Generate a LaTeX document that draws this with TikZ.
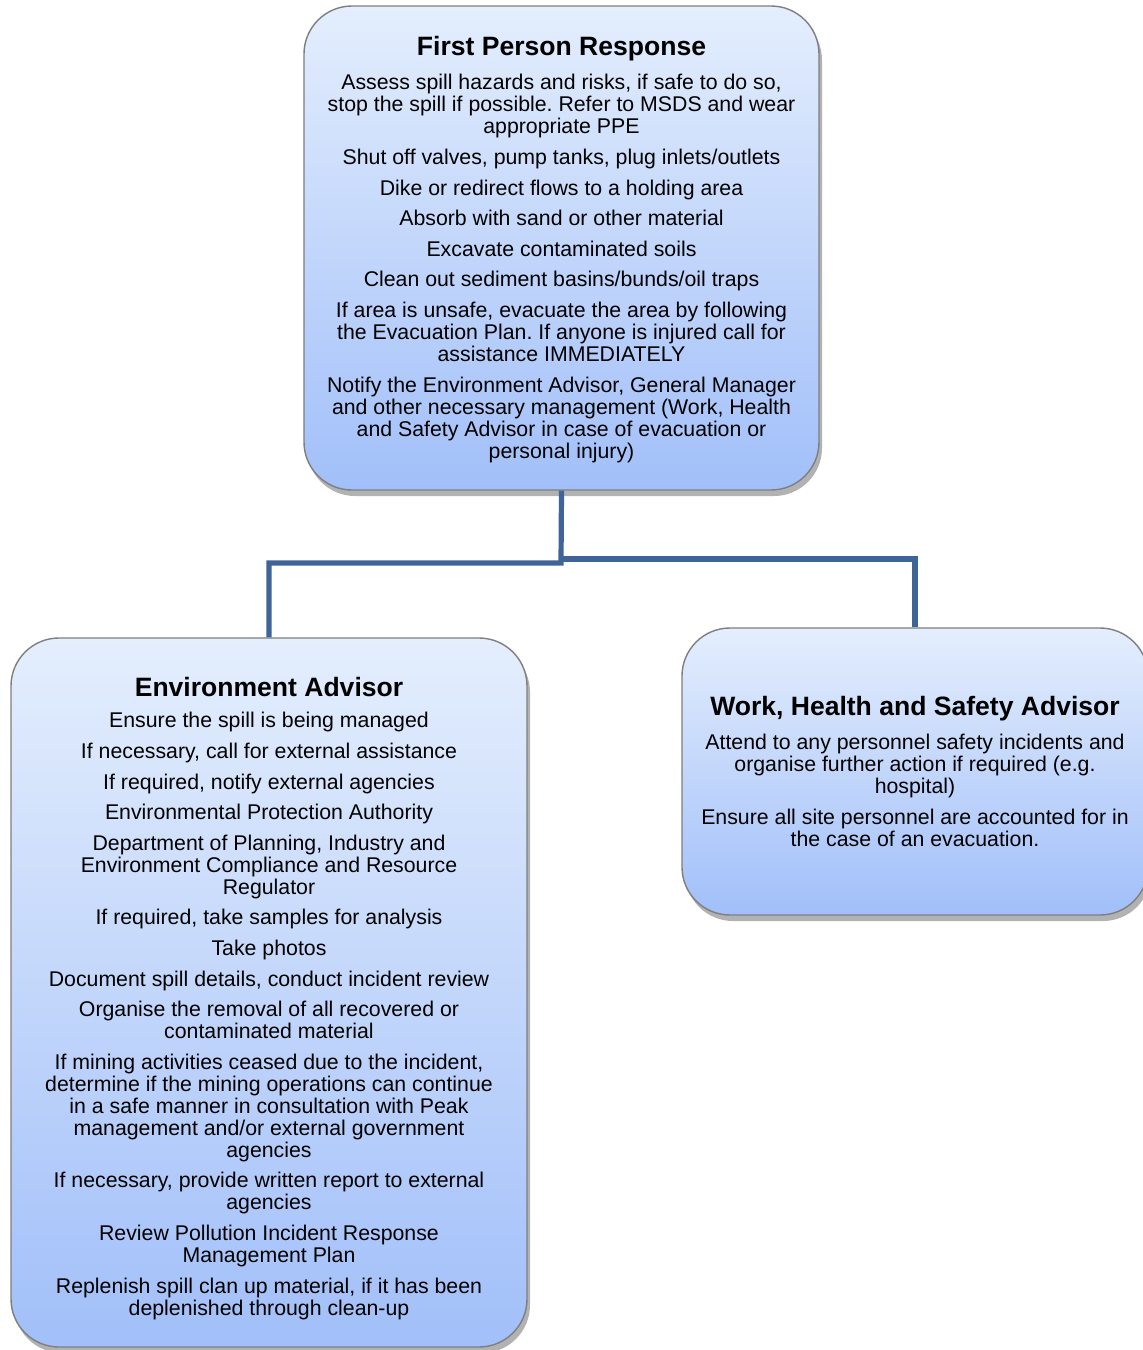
\documentclass[tikz,border=0pt]{standalone}
\usepackage{fontspec}
\setmainfont{Liberation Sans}
\usetikzlibrary{shadows}
\definecolor{topc}{HTML}{E4EEFD}
\definecolor{botc}{HTML}{A1BFF9}
\definecolor{edgec}{HTML}{7F7F7F}
\definecolor{connc}{HTML}{3F6598}
\newcommand\mypsep{\\[4.3pt]}
\frenchspacing
\begin{document}
\begin{tikzpicture}[x=0.5pt,y=-0.5pt,
  box/.style={rectangle, rounded corners=24pt, draw=edgec, line width=0.7pt,
    top color=topc, bottom color=botc, inner sep=0pt,
    drop shadow={shadow xshift=1.5pt, shadow yshift=-3pt, opacity=0.3, fill=black}},
  titletext/.style={font=\bfseries\fontsize{13.27}{15}\selectfont, inner sep=0pt},
  bodytext/.style={font=\fontsize{10.65}{11}\selectfont\frenchspacing, align=center, inner sep=0pt, anchor=north},
  conn/.style={draw=connc, line width=2.6pt}]
\useasboundingbox (0,0) rectangle (1143,1350);
\clip (0,0) rectangle (1143,1350);
\fill[white] (0,0) rectangle (1143,1350);

% connectors
\coordinate (jl) at (561,563);
\coordinate (jr) at (561,559);

\node[box, minimum width=257.5pt, minimum height=242pt] (fpr) at (561.5,248) {};
\node[box, minimum width=258pt, minimum height=354.5pt] (env) at (269,992.5) {};
\node[box, minimum width=233pt, minimum height=143.5pt] (whs) at (915,771.5) {};

\draw[conn] (fpr.south) -- (jl) -| (env.north);
\draw[conn] (jr) -| (whs.north);

\node[titletext] (fprt) at (561.5,49) {First Person Response};
\node[bodytext] (fprb) at (561.5,74) {Assess spill hazards and risks, if safe to do so,\\
stop the spill if possible. Refer to MSDS and wear\\
appropriate PPE\mypsep
Shut off valves, pump tanks, plug inlets/outlets\mypsep
Dike or redirect flows to a holding area\mypsep
Absorb with sand or other material\mypsep
Excavate contaminated soils\mypsep
Clean out sediment basins/bunds/oil traps\mypsep
If area is unsafe, evacuate the area by following\\
the Evacuation Plan. If anyone is injured call for\\
assistance IMMEDIATELY\mypsep
Notify the Environment Advisor, General Manager\\
and other necessary management (Work, Health\\
and Safety Advisor in case of evacuation or\\
personal injury)};

\node[titletext] (envt) at (269,687) {Environment Advisor};
\node[bodytext] (envb) at (269,712) {Ensure the spill is being managed\mypsep
If necessary, call for external assistance\mypsep
If required, notify external agencies\mypsep
Environmental Protection Authority\mypsep
Department of Planning, Industry and\\
Environment Compliance and Resource\\
Regulator\mypsep
If required, take samples for analysis\mypsep
Take photos\mypsep
Document spill details, conduct incident review\mypsep
Organise the removal of all recovered or\\
contaminated material\mypsep
If mining activities ceased due to the incident,\\
determine if the mining operations can continue\\
in a safe manner in consultation with Peak\\
management and/or external government\\
agencies\mypsep
If necessary, provide written report to external\\
agencies\mypsep
Review Pollution Incident Response\\
Management Plan\mypsep
Replenish spill clan up material, if it has been\\
deplenished through clean-up};

\node[titletext] (whst) at (915,709) {Work, Health and Safety Advisor};
\node[bodytext] (whsb) at (915,734) {Attend to any personnel safety incidents and\\
organise further action if required (e.g.\\
hospital)\mypsep
Ensure all site personnel are accounted for in\\
the case of an evacuation.};
\end{tikzpicture}
\end{document}
